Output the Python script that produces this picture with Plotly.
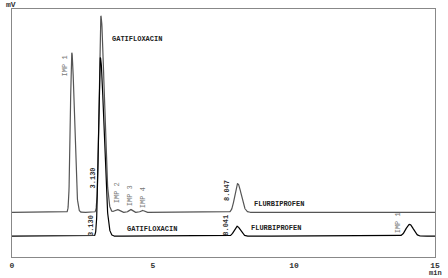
import numpy as np
import plotly.graph_objects as go

# Peak tables (retention time in min, height in mV units, left/right width)
peaks_b_time = [2.12, 3.15, 3.72, 4.20, 4.62, 8.00]
peaks_b_height = [161, 198, 3, 3, 2, 29]
peaks_b_wl = [0.05, 0.06, 0.08, 0.06, 0.06, 0.10]
peaks_b_wr = [0.09, 0.12, 0.08, 0.06, 0.06, 0.13]
peaks_b_names = ["IMP 1", "GATIFLOXACIN", "IMP 2", "IMP 3", "IMP 4", "FLURBIPROFEN"]

peaks_a_time = [3.13, 7.98, 14.10]
peaks_a_height = [180, 10, 12]
peaks_a_wl = [0.06, 0.10, 0.13]
peaks_a_wr = [0.13, 0.12, 0.13]

baseline_a = 21
baseline_b = 45

tick_vals = [0, 5, 10, 15]
tick_text = ["0", "5", "10", "15"]

t = np.linspace(0, 15, 3001)


def trace(times, heights, wl, wr, base):
    y = np.full_like(t, float(base))
    for c, h, sl, sr in zip(times, heights, wl, wr):
        s = np.where(t < c, sl, sr)
        y += h * np.exp(-0.5 * ((t - c) / s) ** 2)
    return y


yb = trace(peaks_b_time, peaks_b_height, peaks_b_wl, peaks_b_wr, baseline_b)
ya = trace(peaks_a_time, peaks_a_height, peaks_a_wl, peaks_a_wr, baseline_a)

fig = go.Figure()
fig.add_trace(go.Scatter(x=t, y=yb, mode="lines", line=dict(color="#555555", width=1.2), hoverinfo="skip"))
fig.add_trace(go.Scatter(x=t, y=ya, mode="lines", line=dict(color="#000000", width=1.2), hoverinfo="skip"))

MONO = "Liberation Mono"
ann = []


def lab(x, y, text, angle=0, bold=False, color="#777777", size=7, xanchor="center"):
    ann.append(dict(x=x, y=y, text=("<b>%s</b>" % text) if bold else text, showarrow=False,
                    textangle=angle, xref="x", yref="y",
                    font=dict(family=MONO, size=size, color=color), xanchor=xanchor, yanchor="middle"))


def px2t(px):
    return (px - 12) / 28.27


def py2y(py):
    return 258 - py

# trace B labels
lab(px2t(65), py2y(65), "IMP 1", angle=-90)
lab(px2t(110), py2y(38), "GATIFLOXACIN", bold=True, color="#222222", xanchor="left")
lab(px2t(93), py2y(178), "3.130", angle=-90, bold=True, color="#333333")
lab(px2t(117), py2y(193), "IMP 2", angle=-90)
lab(px2t(130), py2y(196), "IMP 3", angle=-90)
lab(px2t(144), py2y(198), "IMP 4", angle=-90)
lab(px2t(227), py2y(191), "8.047", angle=-90, bold=True, color="#333333")
lab(px2t(253), py2y(205), "FLURBIPROFEN", bold=True, color="#222222", xanchor="left")
# trace A labels
lab(px2t(91), py2y(226), "3.130", angle=-90, bold=True, color="#333333")
lab(px2t(125), py2y(230), "GATIFLOXACIN", bold=True, color="#222222", xanchor="left")
lab(px2t(227), py2y(226), "8.041", angle=-90, bold=True, color="#333333")
lab(px2t(250), py2y(229), "FLURBIPROFEN", bold=True, color="#222222", xanchor="left")
lab(px2t(399), py2y(224), "IMP 1", angle=-90)
# trace ids
lab(15.45, py2y(213), "B", bold=True, color="#333333", size=8)
lab(15.45, py2y(237), "A", bold=True, color="#333333", size=8)

fig.update_layout(
    width=448, height=278,
    margin=dict(l=12, r=12, t=8, b=20),
    plot_bgcolor="white", paper_bgcolor="white",
    showlegend=False,
    annotations=ann,
    xaxis=dict(range=[0, 15], tickvals=tick_vals, ticktext=["<b>%s</b>" % s for s in tick_text],
               showgrid=False, zeroline=False, showline=True, linecolor="#888888", linewidth=1,
               mirror=True, ticks="", tickfont=dict(family=MONO, size=8, color="#333333")),
    yaxis=dict(range=[0, 250], showgrid=False, zeroline=False, showline=True, linecolor="#888888",
               linewidth=1, mirror=True, showticklabels=False, ticks=""),
)
fig.add_annotation(x=0, y=1.0, xref="paper", yref="paper", text="<b>mV</b>", showarrow=False,
                   xanchor="right", yanchor="bottom", xshift=6, yshift=-2,
                   font=dict(family=MONO, size=8, color="#333333"))
fig.add_annotation(x=1.0, y=0, xref="paper", yref="paper", text="<b>min</b>", showarrow=False,
                   xanchor="center", yanchor="top", yshift=-10,
                   font=dict(family=MONO, size=7, color="#333333"))
fig.write_html("out.html", config={"displayModeBar": False},
               post_script="document.body.style.margin='0';document.body.style.overflow='hidden';")
